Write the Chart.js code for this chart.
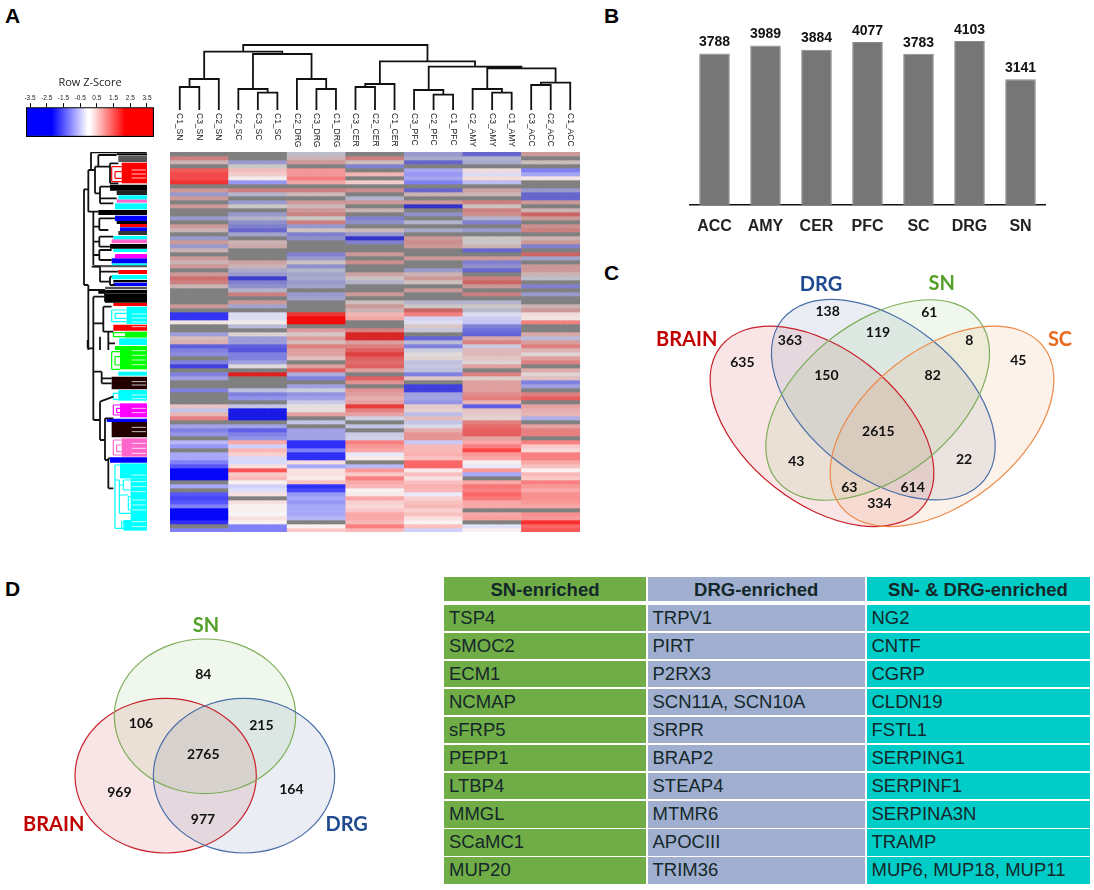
<!DOCTYPE html>
<html>
<head>
<meta charset="utf-8">
<title>Figure</title>
<script src="https://cdn.jsdelivr.net/npm/chart.js@4"></script>
<style>
  body { margin: 0; background: #fff; width: 1094px; height: 890px; position: relative; overflow: hidden; }
  .box { position: absolute; }
  .letter { position: absolute; font: bold 21px "Liberation Sans", sans-serif; color: #000; line-height: 21px; }
  #geneTable { position: absolute; left: 444px; top: 577px; display: grid;
    grid-template-columns: 202px 217.5px 223px; column-gap: 1.5px;
    grid-template-rows: 26px repeat(10, 26.3px); row-gap: 1.77px;
    font: 18.5px "Liberation Sans", sans-serif; color: #14282a; }
  #geneTable div { padding-left: 5px; line-height: 26px; white-space: nowrap; }
  #geneTable div.head { font-weight: bold; text-align: center; padding-left: 0; margin-bottom: 2px; }
</style>
</head>
<body>
<div class="letter" style="left:5px;top:5px">A</div>
<div class="letter" style="left:604px;top:5px">B</div>
<div class="letter" style="left:604px;top:262px">C</div>
<div class="letter" style="left:5px;top:578px">D</div>

<canvas class="box" id="keyChart" style="left:16px;top:72px"></canvas>
<canvas class="box" id="topTree" style="left:170px;top:40px"></canvas>
<canvas class="box" id="sideTree" style="left:60px;top:152px"></canvas>
<canvas class="box" id="heatmap" style="left:170px;top:152px"></canvas>
<canvas class="box" id="barChart" style="left:689px;top:10px"></canvas>
<canvas class="box" id="vennC" style="left:640px;top:250px"></canvas>
<canvas class="box" id="vennD" style="left:0;top:570px"></canvas>
<div id="geneTable"></div>

<script>
Chart.defaults.animation = false;
Chart.defaults.responsive = false;
Chart.defaults.plugins.legend.display = false;
Chart.defaults.plugins.tooltip.enabled = false;

// panel B
const tissues = ['ACC', 'AMY', 'CER', 'PFC', 'SC', 'DRG', 'SN'];
const geneCounts = [3788, 3989, 3884, 4077, 3783, 4103, 3141];

// panel A, samples left to right
const samples = ['C1_SN', 'C3_SN', 'C2_SN', 'C2_SC', 'C3_SC', 'C1_SC', 'C2_DRG', 'C3_DRG', 'C1_DRG',
  'C3_CER', 'C2_CER', 'C1_CER', 'C3_PFC', 'C2_PFC', 'C1_PFC', 'C2_AMY', 'C3_AMY', 'C1_AMY',
  'C3_ACC', 'C2_ACC', 'C1_ACC'];
const keyTicks = [-3.5, -2.5, -1.5, -0.5, 0.5, 1.5, 2.5, 3.5];

// row z-scores per tissue, top row first, _ = grey row
const _ = null;
const hmSN = [_, 1.5, .5, _, 2, 2.2, 2.2, 2.5, _, 1, -1, 1, _, 1, _, _, -1, _, 1, .5, _, -1, 1, -1, .5,
  _, 1, .5, 1, _, 1, 1.8, 1.5, .5, _, _, _, _, 1, _, -2.5, -2.5, .2, _, _, -1, .5, .7,
  -2, -1.5, -1.3, _, -1.5, -2.5, _, -1.5, -1, _, _, -1.5, _, _, _, .5, -.5, .7, 1.5, _, -1, -1.5, -1.2, _,
  -.8, -1.2, _, -1, -1, -1.5, -2, -3, -3, -3, _, -1, _, -2, -2.2, -2, -1.5, -3, -3, -3, -2.5, _, -1.5];
const hmSC = [_, _, -1, .1, .7, .5, .1, -1.2, _, 1.5, -.5, _, -1, .1, _, -1, -.5, -1.2, -1.5, -2, -.8, _, .5, .7, _,
  _, _, .8, .5, -.7, -1, -2.8, -1.5, -1.2, -.5, 1.5, _, 1, -.8, _, -.3, -.3, .1, -.5, _, .1, -1, -1,
  -2, -2.2, -1.5, -1.5, -1, .1, _, 3, _, _, _, -.5, -1.5, -1.2, _, -.5, -3, -3, -3, _, -1, -2, -1.5, -1.2,
  1, -.5, .8, .5, -.4, -.4, .3, 2, .6, .8, .1, -.5, -.3, .3, _, .3, .1, .1, .05, .3, .1, -1.5, -1.5];
const hmDRG = [-.3, .5, 1, _, 1.2, 1.2, 1.5, 1, _, 1.5, .4, _, 1, .4, 1, 1.4, .1, 1.5, -1, .2, -1.5, -1.2, _, _, _,
  -1.5, -1, .2, -1.2, -.5, -.8, -.7, -1, -.8, _, -1, -.8, _, _, _, 2.5, 3, 3, _, 1, .3, 1, .5,
  1.5, 1, 1, .5, _, 1, 2, -.8, -1.5, _, -1, -.3, -1.2, -1, -.4, .1, .1, 1, _, -.5, _, -1, -1, -1,
  -2.5, -2.5, -1.5, -2.5, -2.5, .3, -1, .3, .3, .2, .7, -2.5, -2.2, -1.2, -1, -1.2, -1, -1, -1, -.8, _, .1, .6];
const hmCER = [_, 1.5, .3, -1.5, _, .8, _, .5, _, 1.2, _, -.5, 1, _, .5, _, -1.5, -1.2, _, .4, -1, -3, -1.5, _, _,
  1, _, 1.2, _, _, .8, .2, -.5, _, _, 1, _, .3, 1, .5, .8, 1, _, _, 1.5, 3, 3, 1,
  1.5, 2, 2.5, 2, 1.8, 2, 1, _, 2, 1.2, _, 1.2, 1, .8, 1, 2.5, 1.5, 1, -.3, _, -.5, _, -.4, -.3,
  1.5, 1.2, 1, -.2, .2, _, -.8, 1.2, .6, 1.5, 1, .8, .1, .2, 1, .5, .4, .6, 1, 1, .8, 1.5, .8];
const hmPFC = [-1, -.7, -2, _, -1, -1.2, -1, -1.5, _, -2, .5, _, 1, -3, _, -1.2, _, -.5, _, -.7, _, 1, 1.2, 1, _,
  _, 1, _, _, -1, .5, 1, .2, _, 1, _, _, -.5, .1, 2, 1.5, -.4, -.3, .3, -.3, _, -2, -.5,
  -1.5, -.3, .1, .2, -.5, -.4, -.5, -1.5, .4, _, -2.5, -2.5, -1, -1, -1.2, .4, .3, -.6, .6, -.5, -.2, .8, 1.2, 1.2,
  -.6, .8, .8, .9, .7, 1.8, 1.8, .2, .7, .3, .7, .9, .8, -.2, .5, .7, .8, .5, .7, .3, .1, .7, -.5];
const hmAMY = [-2, -.5, -.7, _, .3, -.3, .3, -.7, _, .8, .5, _, 1.5, .2, 1.5, 1.2, -.5, -1.5, _, -1, _, .1, .1, .5, -2,
  _, 1, -1.5, -1.2, -2, _, 1.5, 2, 1, _, 1.5, _, -.5, .1, -.4, -.3, -.5, -.6, -1.5, -1.8, -2, .8, 1.5,
  -.3, .6, .6, .4, .2, 1, _, 1.5, .3, 1, 1, 1, 1.3, 1.5, .7, -2, .5, .4, .3, 1.5, 1.8, 2, 2, 1,
  1, 1.5, 2.2, 1.2, 1, .1, -.2, 1.2, -1, _, 1, 1.6, 1.5, 1.8, 1.6, 1, 1, _, 1, 1.1, _, -.3, .1];
const hmACC = [1, _, .3, _, -1.5, -1, .2, _, _, -1, -2, -2, 1, _, .5, 2, 1, _, 1.2, 1.5, _, .5, 1, -1.5, _,
  2, -.8, _, 1, 1, .5, -.3, _, -1.5, _, -1, _, _, .5, 1, .3, .2, 1.5, _, _, .8, -.5, 1,
  1.5, .7, .2, 1, 1.5, _, .8, .2, .5, -1.5, -1, _, 1.5, 2, _, 1, .8, .7, -.8, _, 1, 1.5, 1.5, _,
  1.5, .6, .4, 1.5, 1.5, 1, .7, .1, .8, .6, 1.5, 1.2, 1, 1.3, 1.3, 1.2, 1, _, 1.3, 1.2, 2.5, 1.8, 2];
const tissueRows = [hmSN, hmSC, hmDRG, hmCER, hmPFC, hmAMY, hmACC];
// how much of each row is made of grey lines too thin to see apart
const rowGrey = [.4, .4, .4, .4, .1, .1, .1, .1, .4, .4, .4, .4, .4, .4, .4, .4, .4, .4, .4, .4, .4, .4, .4, .4, .4,
  .4, .4, .4, .4, .4, .4, .4, .4, .4, .4, .4, .4, .4, .4, .4, .1, .1, .1, .3, .3, .3, .3, .3,
  .25, .25, .25, .25, .25, .25, .25, .25, .25, .25, .25, .25, .25, .2, .2, .2, .2, .2, .2, .2, .2, .2, .2, .2,
  .05, .05, .05, .05, .05, .05, .05, .05, .05, .05, .05, .05, .05, .05, .05, .05, .05, .05, .05, .05, .05, .05, .05];

// sample tree: child ids (0-20 leaves, 21+ earlier merges) and merge height
const mergeLeft = [0, 21, 4, 3, 7, 6, 24, 22, 9, 29, 13, 12, 16, 15, 18, 35, 34, 32, 30, 28];
const mergeRight = [1, 2, 5, 23, 8, 25, 26, 27, 10, 11, 14, 31, 17, 33, 19, 20, 36, 37, 38, 39];
const mergeHeight = [23, 31, 17.3, 21, 21, 31, 56, 58.3, 23, 26, 15.3, 20, 17.3, 21, 25, 27.3, 41.7, 43.3, 48.7, 65];

// gene tree, distance and row in thirds of a pixel: x1, y1, x2, y2
const geneLinksUpper = [[72,118,72,405],[72,118,85,118],[72,405,85,405],[85,60,85,185],[85,60,93,60],[85,185,115,185],
  [93,7,93,60],[93,7,260,7],[93,60,105,60],[105,50,105,130],[105,50,115,50],[105,130,120,130],[115,15,115,50],
  [115,15,170,15],[115,50,150,50],[150,40,150,100],[150,40,175,40],[150,100,175,100],[120,110,120,160],[120,110,150,110],
  [120,145,170,145],[120,160,160,160],[100,185,100,345],[100,230,118,230],[118,205,118,240],[118,205,165,205],
  [118,240,145,240],[118,260,118,290],[100,275,118,275],[118,260,160,260],[118,290,150,290],[118,300,118,330],
  [100,315,118,315],[118,300,155,300],[118,330,155,330],[95,350,120,350],[120,350,120,395],[120,365,175,365],
  [120,395,150,395],[150,380,150,405],[150,380,155,380],[150,405,165,405],[85,405,85,600],[85,420,135,420],
  [100,440,100,600],[100,440,135,440],[135,420,135,455],[100,520,130,520],[130,470,130,545],[130,470,155,470],
  [130,545,160,545],[120,560,120,600],[145,545,145,600],[145,580,165,580]];
const geneLinksLower = [[83,0,83,25],[83,25,100,25],[100,0,100,240],[100,95,125,95],[125,95,125,130],[125,130,155,130],
  [125,115,155,115],[100,240,120,240],[120,185,120,300],[120,185,160,170],[120,300,135,300],[135,235,135,360],
  [135,235,160,235],[135,360,145,360],[145,355,145,445],[145,445,160,445],[145,355,150,355]];
// branches inside the coloured clusters
const redLinksUpper = [[155,50,155,95],[155,50,185,50],[155,95,185,95],[165,65,185,65],[165,65,165,85],[165,85,185,85]];
const cyanLinksUpper = [[155,480,155,515],[155,480,200,480],[155,515,200,515],[165,490,200,490],[165,490,165,505],[165,505,200,505]];
const greenLinksUpper = [[160,548,160,560],[160,548,195,548],[160,560,195,560]];
const cyanLinksLower = [[165,375,165,565],[165,375,180,375],[165,565,190,565],[178,420,178,520],[165,420,178,420],[178,465,205,465],
  [190,420,190,450],[178,435,190,435],[190,420,212,420],[190,450,212,450],[205,470,205,510],[205,470,212,470],[205,510,212,510],
  [178,520,212,520],[185,545,185,565],[185,545,190,545],[160,160,160,178],[160,160,175,160],[160,178,175,178]];
const greenLinksLower = [[155,35,155,88],[155,35,180,35],[155,88,180,88],[165,50,165,75],[165,50,180,50],[165,75,180,75]];
const pinkLinksLower = [[160,300,160,345],[160,300,185,300],[160,345,185,345],[170,315,170,335],[170,315,185,315],[170,335,185,335]];
const magentaLinksLower = [[160,195,160,225],[160,195,180,195],[160,225,180,225],[170,205,170,218],[170,205,180,205],[170,218,180,218]];

// coloured clusters of the gene tree: row from, row to, distance where it starts
const bandFrom = [10, 16, 38, 104, 122, 136, 148, 160, 180, 197, 213, 222, 232, 243, 258, 268, 282, 297, 312, 325, 340, 345, 360, 375, 390, 398, 410, 420, 432, 458, 470, 524, 545, 565, 588];
const bandTo = [15, 36, 100, 122, 135, 148, 158, 178, 195, 213, 222, 231, 243, 255, 268, 280, 296, 306, 325, 340, 346, 352, 372, 388, 397, 408, 418, 431, 458, 468, 522, 542, 563, 585, 600];
const bandStart = [170, 175, 185, 150, 170, 175, 170, 165, 115, 165, 170, 180, 180, 175, 160, 155, 150, 160, 165, 155, 155, 100, 175, 155, 160, 160, 135, 115, 135, 160, 200, 160, 195, 178, 165];
const bandColor = ['#000', '#555', '#f00', '#000', '#222', '#0ff', '#f6c', '#0ff', '#000', '#00f', '#000', '#f00', '#00f', '#333', '#0ff', '#f6c', '#000', '#0ff', '#f0f', '#00f', '#0ff', '#555', '#f00', '#0ff', '#000', '#00f', '#555', '#000', '#000', '#f00', '#0ff', '#f00', '#0f0', '#0ff', '#0f0'];
const bandFromLower = [0, 18, 95, 110, 150, 190, 236, 246, 295, 352, 370, 415, 540];
const bandToLower = [15, 88, 107, 148, 182, 232, 246, 292, 350, 368, 415, 540, 572];
const bandStartLower = [178, 180, 175, 155, 175, 180, 140, 155, 185, 150, 180, 212, 190];
const bandColorLower = ['#0ff', '#0f0', '#0ff', '#200', '#0ff', '#f0f', '#00f', '#200', '#f6c', '#00f', '#0ff', '#0ff', '#0ff'];
const stripeRows = [60, 72, 84, 492, 504, 516, 530];
const stripeRowsLower = [32, 46, 60, 74, 125, 135, 165, 176, 205, 218, 262, 275, 310, 325, 340, 405, 425, 440, 455, 480, 495, 510, 545, 560];

// panel C
const setsC = ['BRAIN', 'DRG', 'SN', 'SC'];
const setXC = [546, 730, 713, 906];
const setYC = [529, 449, 450, 529];
const setTiltC = [38.3, 38.3, -38.3, -38.3];
const setColors = { BRAIN: '192,0,0', DRG: '47,85,151', SN: '112,173,71', SC: '237,125,49' };
const setEdges = { BRAIN: '#c8202a', DRG: '#4a6ea8', SN: '#7fae5a', SC: '#ed8a4a' };
const setInk = { BRAIN: '#c00000', DRG: '#1f4a90', SN: '#55a02a', SC: '#e8691f' };
const countsC = [138, 61, 363, 119, 8, 635, 150, 82, 45, 2615, 43, 22, 63, 614, 334];
const countXC = [563, 868, 450, 714, 988, 307, 559, 878, 1135, 715, 469, 972, 628, 818, 718];
const countYC = [185, 187, 272, 247, 270, 338, 377, 377, 331, 544, 633, 629, 713, 713, 760];
const nameXC = [140, 543, 905, 1260];
const nameYC = [270, 103, 100, 270];

// panel D
const setsD = ['BRAIN', 'SN', 'DRG'];
const setXD = [497, 615, 732];
const setYD = [617, 439, 617];
const countsD = [84, 106, 215, 2765, 969, 164, 977];
const countXD = [610, 423, 784, 610, 358, 874, 609];
const countYD = [314, 460, 465, 554, 666, 658, 749];
const nameXD = [161, 618, 1040];
const nameYD = [763, 168, 763];

// table
const tableHead = ['SN-enriched', 'DRG-enriched', 'SN- & DRG-enriched'];
const snGenes = ['TSP4', 'SMOC2', 'ECM1', 'NCMAP', 'sFRP5', 'PEPP1', 'LTBP4', 'MMGL', 'SCaMC1', 'MUP20'];
const drgGenes = ['TRPV1', 'PIRT', 'P2RX3', 'SCN11A, SCN10A', 'SRPR', 'BRAP2', 'STEAP4', 'MTMR6', 'APOCIII', 'TRIM36'];
const bothGenes = ['NG2', 'CNTF', 'CGRP', 'CLDN19', 'FSTL1', 'SERPING1', 'SERPINF1', 'SERPINA3N', 'TRAMP', 'MUP6, MUP18, MUP11'];
const tableColors = ['#70ad47', '#a0afd0', '#00cdc8'];

function setSize(id, w, h) {
  const c = document.getElementById(id);
  c.width = w;
  c.height = h;
  c.style.width = w + 'px';
  c.style.height = h + 'px';
  return c;
}

function zColor(z, grey) {
  if (z === null) return '#808080';
  const t = Math.min(Math.abs(z) / 3, 1);
  const v = 255 * (1 - t);
  const mix = c => Math.round(c * (1 - grey) + 128 * grey);
  return z > 0 ? `rgb(${mix(255)},${mix(v)},${mix(v)})` : `rgb(${mix(v)},${mix(v)},${mix(255)})`;
}

// colour key
new Chart(setSize('keyChart', 148, 66), {
  type: 'bar',
  data: {
    labels: ['z'],
    datasets: [{
      data: [[-3.74, 3.92]],
      borderWidth: 1.5,
      borderColor: '#000',
      borderSkipped: false,
      barPercentage: 1,
      categoryPercentage: 1,
      backgroundColor: ctx => {
        const { chart } = ctx;
        if (!chart.chartArea) return '#fff';
        const s = chart.scales.x;
        const g = chart.ctx.createLinearGradient(s.left, 0, s.right, 0);
        const stop = v => (s.getPixelForValue(v) - s.left) / (s.right - s.left);
        g.addColorStop(0, '#00f');
        g.addColorStop(stop(-2.2), '#00f');
        g.addColorStop(stop(-0.05), '#fff');
        g.addColorStop(stop(0.1), '#fff');
        g.addColorStop(stop(2.2), '#f00');
        g.addColorStop(1, '#f00');
        return g;
      }
    }]
  },
  options: {
    indexAxis: 'y',
    layout: { padding: { left: 10, right: 10, bottom: 1 } },
    plugins: {
      title: { display: true, text: 'Row Z-Score', color: '#222', font: { family: 'Open Sans', size: 11, weight: 'normal' }, padding: { top: 4, bottom: 3 } }
    },
    scales: {
      y: { display: false },
      x: {
        position: 'top',
        min: -3.74,
        max: 3.92,
        afterBuildTicks: s => { s.ticks = keyTicks.map(v => ({ value: v })); },
        afterFit: s => { s.height = 15; },
        border: { display: false },
        grid: { drawOnChartArea: false, color: '#000', tickLength: 4 },
        ticks: { autoSkip: false, maxRotation: 0, padding: 1, color: '#222', font: { size: 6.5, family: 'Liberation Sans' }, callback: v => v.toFixed(1) }
      }
    }
  }
});

// sample tree with its labels
const nodeX = samples.map((s, i) => i);
const nodeH = samples.map(() => 0);
const topLinks = [];
mergeLeft.forEach((a, i) => {
  const b = mergeRight[i];
  const h = mergeHeight[i];
  topLinks.push({ x: nodeX[a], y: nodeH[a] }, { x: nodeX[a], y: h }, { x: nodeX[b], y: h }, { x: nodeX[b], y: nodeH[b] }, { x: nodeX[b], y: null });
  nodeX.push((nodeX[a] + nodeX[b]) / 2);
  nodeH.push(h);
});

new Chart(setSize('topTree', 410, 112), {
  type: 'scatter',
  data: { datasets: [{ data: topLinks, showLine: true, borderColor: '#111', borderWidth: 1.8, pointRadius: 0, spanGaps: false }] },
  options: {
    layout: { padding: { bottom: 42 } },
    scales: {
      x: { display: false, min: -0.5, max: 20.5 },
      y: { display: false, min: 0, max: 70 }
    }
  },
  plugins: [{
    id: 'sampleLabels',
    afterDraw(chart) {
      const { ctx, scales } = chart;
      ctx.save();
      ctx.font = '8.5px "Liberation Sans"';
      ctx.fillStyle = '#222';
      ctx.textBaseline = 'middle';
      samples.forEach((s, i) => {
        ctx.save();
        ctx.translate(scales.x.getPixelForValue(i), scales.y.getPixelForValue(0) + 3);
        ctx.rotate(Math.PI / 2);
        ctx.fillText(s, 0, 0);
        ctx.restore();
      });
      ctx.restore();
    }
  }]
});

// gene tree, first dataset ends up on top
const bands = [];
const addBand = (from, to, start, color) => bands.push({
  type: 'scatter', showLine: true, pointRadius: 0, borderColor: color, borderWidth: (to - from) / 3, borderCapStyle: 'butt',
  data: [{ x: start, y: (from + to) / 2 }, { x: 261, y: (from + to) / 2 }]
});
const UPPER = -6;
const LOWER = 564;
bandFrom.forEach((f, i) => addBand(f + UPPER, bandTo[i] + UPPER, bandStart[i], bandColor[i]));
bandFromLower.forEach((f, i) => addBand(f + LOWER, bandToLower[i] + LOWER, bandStartLower[i], bandColorLower[i]));

const toPath = (links, off) => links.flatMap(l => [{ x: l[0], y: l[1] + off }, { x: l[2], y: l[3] + off }, { x: l[2], y: null }]);
const linkSet = (data, color, width) => ({ data, showLine: true, pointRadius: 0, borderColor: color, borderWidth: width, spanGaps: false });
const stripes = stripeRows.map(r => r + UPPER).concat(stripeRowsLower.map(r => r + LOWER))
  .flatMap(r => [{ x: 215, y: r }, { x: 258, y: r }, { x: 258, y: null }]);

new Chart(setSize('sideTree', 87, 380), {
  type: 'scatter',
  data: {
    datasets: [
      linkSet(toPath(geneLinksUpper, UPPER).concat(toPath(geneLinksLower, LOWER)), '#111', 1.8),
      linkSet(toPath(redLinksUpper, UPPER), '#f00', 1.2),
      linkSet(toPath(cyanLinksUpper, UPPER).concat(toPath(cyanLinksLower, LOWER)), '#0ff', 1.2),
      linkSet(toPath(greenLinksUpper, UPPER).concat(toPath(greenLinksLower, LOWER)), '#0f0', 1.2),
      linkSet(toPath(pinkLinksLower, LOWER), '#f6c', 1.2),
      linkSet(toPath(magentaLinksLower, LOWER), '#f0f', 1.2),
      linkSet(stripes, 'rgba(255,255,255,.75)', 1)
    ].concat(bands)
  },
  options: {
    scales: {
      x: { display: false, min: 0, max: 261 },
      y: { display: false, reverse: true, min: 0, max: 1140 }
    }
  }
});

// heatmap, one stacked dataset per row
const rowDatasets = hmSN.map((v, r) => ({
  data: samples.map(() => 1),
  backgroundColor: samples.map((s, c) => zColor(tissueRows[Math.floor(c / 3)][r], rowGrey[r])),
  borderWidth: 0,
  barPercentage: 1,
  categoryPercentage: 1
}));

new Chart(setSize('heatmap', 410, 380), {
  type: 'bar',
  data: { labels: samples, datasets: rowDatasets },
  options: {
    scales: {
      x: { display: false, stacked: true },
      y: { display: false, stacked: true, reverse: true, min: 0, max: hmSN.length }
    }
  }
});

// bars
new Chart(setSize('barChart', 357, 235), {
  type: 'bar',
  data: {
    labels: tissues,
    datasets: [{ data: geneCounts, backgroundColor: '#767676', borderColor: '#8c8c8c', borderWidth: 1, barPercentage: 0.6, categoryPercentage: 1 }]
  },
  options: {
    scales: {
      y: { display: false, min: 0, max: 4875 },
      x: {
        afterFit: s => { s.height = 40; s.paddingLeft = 0; s.paddingRight = 0; },
        border: { color: '#111', width: 1.5 },
        grid: { display: false },
        ticks: { padding: 4, color: '#222', font: { family: 'Liberation Sans', weight: 'bold', size: 16 } }
      }
    }
  },
  plugins: [{
    id: 'barValues',
    afterDatasetsDraw(chart) {
      const { ctx } = chart;
      ctx.save();
      ctx.font = 'bold 14px "Liberation Sans"';
      ctx.fillStyle = '#111';
      ctx.textAlign = 'center';
      ctx.textBaseline = 'bottom';
      chart.getDatasetMeta(0).data.forEach((bar, i) => ctx.fillText(geneCounts[i], bar.x, bar.y - 4));
      ctx.restore();
    }
  }]
});

// venn panels: scale units are thirds of a pixel
function drawVenn(id, w, h, sets, setX, setY, tilt, rx, ry, counts, countX, countY, nameX, nameY) {
  new Chart(setSize(id, w, h), {
    type: 'scatter',
    data: {
      datasets: [
        { data: setX.map((x, i) => ({ x: x, y: setY[i] })), pointRadius: 0 },
        { data: countX.map((x, i) => ({ x: x, y: countY[i] })), pointRadius: 0 },
        { data: nameX.map((x, i) => ({ x: x, y: nameY[i] })), pointRadius: 0 }
      ]
    },
    options: {
      scales: {
        x: { display: false, min: 0, max: w * 3 },
        y: { display: false, reverse: true, min: 0, max: h * 3 }
      }
    },
    plugins: [{
      id: 'vennShapes',
      afterDatasetsDraw(chart) {
        const { ctx, scales } = chart;
        const ux = (scales.x.right - scales.x.left) / (w * 3);
        const uy = (scales.y.bottom - scales.y.top) / (h * 3);
        ctx.save();
        chart.getDatasetMeta(0).data.forEach((p, i) => {
          const name = sets[i];
          ctx.beginPath();
          ctx.ellipse(p.x, p.y, rx * ux, ry * uy, tilt[i] * Math.PI / 180, 0, Math.PI * 2);
          ctx.fillStyle = `rgba(${setColors[name]},0.1)`;
          ctx.fill();
        });
        chart.getDatasetMeta(0).data.forEach((p, i) => {
          ctx.beginPath();
          ctx.ellipse(p.x, p.y, rx * ux, ry * uy, tilt[i] * Math.PI / 180, 0, Math.PI * 2);
          ctx.strokeStyle = setEdges[sets[i]];
          ctx.lineWidth = 1.2;
          ctx.stroke();
        });
        ctx.textAlign = 'center';
        ctx.textBaseline = 'middle';
        ctx.fillStyle = '#111';
        ctx.font = 'bold 14px Lato';
        chart.getDatasetMeta(1).data.forEach((p, i) => ctx.fillText(counts[i], p.x, p.y));
        ctx.font = 'bold 20px Lato';
        chart.getDatasetMeta(2).data.forEach((p, i) => {
          ctx.fillStyle = setInk[sets[i]];
          ctx.fillText(sets[i], p.x, p.y);
        });
        ctx.restore();
      }
    }]
  });
}

drawVenn('vennC', 454, 300, setsC, setXC, setYC, setTiltC, 387, 231, countsC, countXC, countYC, nameXC, nameYC);
drawVenn('vennD', 430, 320, setsD, setXD, setYD, [0, 0, 0], 272, 232, countsD, countXD, countYD, nameXD, nameYD);

// table
const table = document.getElementById('geneTable');
const addCell = (text, col, cls) => {
  const d = document.createElement('div');
  d.textContent = text;
  d.style.background = tableColors[col];
  if (cls) d.className = cls;
  table.appendChild(d);
};
tableHead.forEach((t, c) => addCell(t, c, 'head'));
snGenes.forEach((g, i) => {
  addCell(g, 0);
  addCell(drgGenes[i], 1);
  addCell(bothGenes[i], 2);
});
</script>
</body>
</html>
